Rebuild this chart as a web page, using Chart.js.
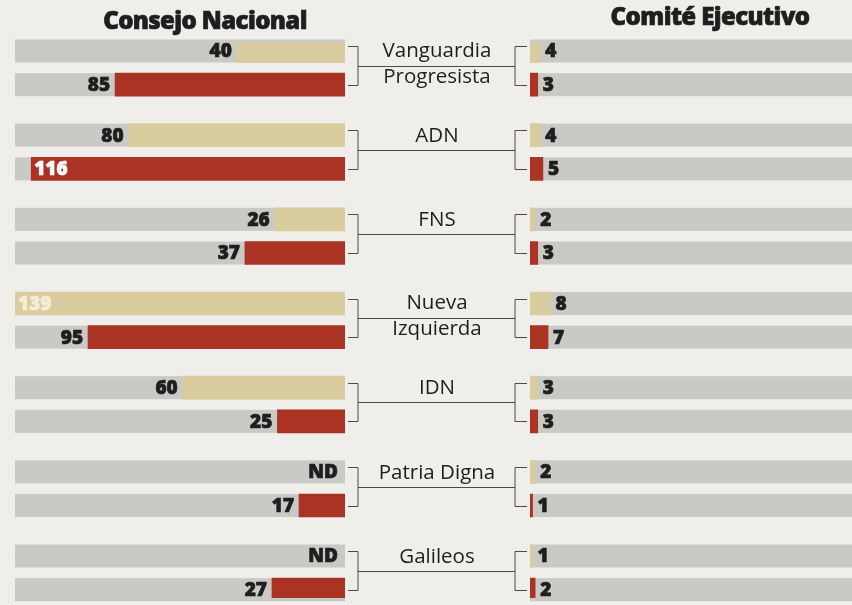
<!DOCTYPE html>
<html>
<head>
<meta charset="utf-8">
<script src="https://cdn.jsdelivr.net/npm/chart.js@4.4.1/dist/chart.umd.min.js"></script>
<style>
  body { margin: 0; background: #efeeea; }
  #wrap { position: relative; width: 852px; height: 605px; overflow: hidden; }
  canvas { position: absolute; left: 0; top: 0; }
</style>
</head>
<body>
<div id="wrap">
  <canvas id="consejo" width="852" height="605"></canvas>
  <canvas id="comite" width="852" height="605"></canvas>
</div>
<script>
// corrientes, con el corte de línea del rótulo central
const corrientes = [
  ['Vanguardia', 'Progresista'],
  ['ADN'],
  ['FNS'],
  ['Nueva', 'Izquierda'],
  ['IDN'],
  ['Patria Digna'],
  ['Galileos']
];
// null = ND
const consejoPrimero = [40, 80, 26, 139, 60, null, null];
const consejoSegundo = [85, 116, 37, 95, 25, 17, 27];
const comitePrimero = [4, 4, 2, 8, 3, 2, 1];
const comiteSegundo = [3, 5, 3, 7, 3, 1, 2];

const TAN = '#d9cc9f';
const RED = '#ab3324';
const TRACK = '#c9c9c6';
const INK = '#1e1e1e';
const FONT = '"Open Sans", sans-serif';

// 5 espacios por grupo: barra, hueco, barra, hueco, hueco
const SLOTS = 5 * (corrientes.length - 1) + 3;
const slotLabels = Array.from({length: SLOTS}, (_, i) => String(i));

function toSlots(primero, segundo) {
  const out = new Array(SLOTS).fill(null);
  primero.forEach((v, g) => { out[5 * g] = v; });
  segundo.forEach((v, g) => { out[5 * g + 2] = v; });
  return out;
}
function slotColors() {
  const out = new Array(SLOTS).fill('rgba(0,0,0,0)');
  corrientes.forEach((c, g) => { out[5 * g] = TAN; out[5 * g + 2] = RED; });
  return out;
}
function barSlots() {
  const out = [];
  corrientes.forEach((c, g) => { out.push(5 * g, 5 * g + 2); });
  return out;
}

function heavyText(ctx, txt, x, y) {
  ctx.strokeStyle = ctx.fillStyle;
  ctx.lineWidth = 0.7;
  ctx.strokeText(txt, x, y);
  ctx.fillText(txt, x, y);
}

const tracks = {
  id: 'tracks',
  beforeDatasetsDraw(chart) {
    const ctx = chart.ctx, area = chart.chartArea, y = chart.scales.y;
    ctx.save();
    ctx.fillStyle = TRACK;
    barSlots().forEach(s => {
      const py = y.getPixelForValue(s);
      ctx.fillRect(area.left, py - 11.5, area.right - area.left, 23);
    });
    ctx.restore();
  }
};

const valueLabels = {
  id: 'valueLabels',
  afterDatasetsDraw(chart, args, opts) {
    const ctx = chart.ctx, area = chart.chartArea;
    const meta = chart.getDatasetMeta(0);
    const data = chart.data.datasets[0].data;
    ctx.save();
    ctx.font = '800 19px ' + FONT;
    ctx.textBaseline = 'middle';
    barSlots().forEach(s => {
      const v = data[s];
      const bar = meta.data[s];
      const py = chart.scales.y.getPixelForValue(s) + 1;
      const isTan = s % 5 === 0;
      if (opts.side === 'left') {
        if (v === null) {
          ctx.fillStyle = INK;
          ctx.textAlign = 'right';
          heavyText(ctx, 'ND', area.right - 7, py);
          return;
        }
        const txt = String(v);
        const w = ctx.measureText(txt).width;
        const bx = Math.max(bar.x, area.left);
        if (bx - w - 6 < area.left) {
          ctx.fillStyle = isTan ? '#f4eed6' : '#fff';
          ctx.textAlign = 'left';
          heavyText(ctx, txt, bx + 3, py);
        } else {
          ctx.fillStyle = INK;
          ctx.textAlign = 'right';
          heavyText(ctx, txt, bx - 5, py);
        }
      } else {
        ctx.fillStyle = INK;
        ctx.textAlign = 'left';
        heavyText(ctx, String(v), bar.x + 5, py);
      }
    });
    ctx.fillStyle = INK;
    ctx.textAlign = 'center';
    ctx.font = '800 24px ' + FONT;
    ctx.letterSpacing = '-0.6px';
    heavyText(ctx, opts.title, opts.titleX, opts.titleY);
    ctx.restore();
  }
};

// rótulos centrales y corchetes (sólo en el lienzo izquierdo)
const brackets = {
  id: 'brackets',
  afterDraw(chart) {
    const ctx = chart.ctx, y = chart.scales.y;
    const lx = 358, rx = 515, cx = 437;
    ctx.save();
    ctx.strokeStyle = '#4a4a4a';
    ctx.lineWidth = 1;
    ctx.fillStyle = INK;
    ctx.font = '20.5px ' + FONT;
    ctx.textAlign = 'center';
    ctx.textBaseline = 'middle';
    corrientes.forEach((lines, g) => {
      const y1 = Math.round(y.getPixelForValue(5 * g)) + 0.5;
      const y2 = Math.round(y.getPixelForValue(5 * g + 2)) + 0.5;
      const top = y1 - 5;
      const mid = Math.round((y1 + y2) / 2 - 3) + 0.5;
      ctx.beginPath();
      // corchete izquierdo
      ctx.moveTo(348, top); ctx.lineTo(lx, top); ctx.lineTo(lx, y2); ctx.lineTo(348, y2);
      // corchete derecho
      ctx.moveTo(527, top); ctx.lineTo(rx, top); ctx.lineTo(rx, y2); ctx.lineTo(527, y2);
      // conector
      ctx.moveTo(lx, mid); ctx.lineTo(rx, mid);
      ctx.stroke();
      if (lines.length === 2) {
        ctx.fillText(lines[0], cx, mid - 15);
        ctx.fillText(lines[1], cx, mid + 11);
      } else {
        ctx.fillText(lines[0], cx, mid - 14);
      }
    });
    ctx.restore();
  }
};

function makeChart(id, primero, segundo, xMax, reverse, padding, labelOpts, extra) {
  return new Chart(document.getElementById(id), {
    type: 'bar',
    data: {
      labels: slotLabels,
      datasets: [{
        data: toSlots(primero, segundo),
        backgroundColor: slotColors(),
        barThickness: 23,
        borderWidth: 0
      }]
    },
    options: {
      indexAxis: 'y',
      responsive: false,
      devicePixelRatio: 1,
      animation: false,
      layout: { padding: padding },
      scales: {
        x: { display: false, min: 0, max: xMax, reverse: reverse },
        y: { display: false }
      },
      plugins: {
        legend: { display: false },
        tooltip: { enabled: false },
        valueLabels: labelOpts
      }
    },
    plugins: [tracks, valueLabels].concat(extra)
  });
}

makeChart('consejo', consejoPrimero, consejoSegundo, 122, true,
  { left: 15, right: 507, top: 42.6, bottom: 6.9 },
  { side: 'left', title: 'Consejo Nacional', titleX: 205, titleY: 22 },
  [brackets]);

makeChart('comite', comitePrimero, comiteSegundo, 125, false,
  { left: 530, right: 0, top: 42.6, bottom: 6.9 },
  { side: 'right', title: 'Comité Ejecutivo', titleX: 710, titleY: 18 },
  []);
</script>
</body>
</html>
